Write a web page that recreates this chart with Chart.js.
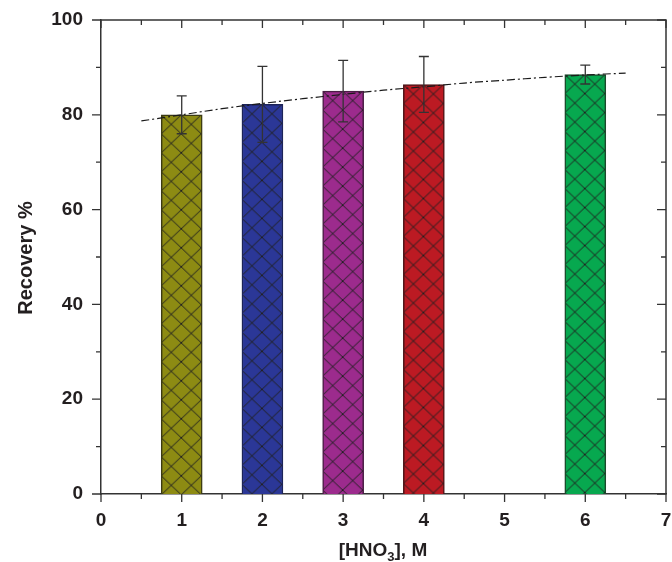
<!DOCTYPE html>
<html>
<head>
<meta charset="utf-8">
<script src="https://cdn.jsdelivr.net/npm/chart.js@4.4.1/dist/chart.umd.min.js"></script>
<style>
  html, body { margin: 0; padding: 0; background: #fff; }
  canvas { display: block; }
</style>
</head>
<body>
<canvas id="chart" width="672" height="562"></canvas>
<script>
// ---- data ----
const concX = [1, 2, 3, 4, 6];                 // [HNO3], M
const recovery = [80.0, 82.2, 85.0, 86.4, 88.5]; // Recovery %
const recoveryErr = [4.0, 8.0, 6.5, 5.9, 2.0];
const barColors = ['#8d8b13', '#2b3797', '#9c2b8d', '#bc1a23', '#07a84f'];
const barEdges  = ['#3b3a14', '#1d2458', '#4a1d44', '#4d1417', '#1b4a2c'];

const trendX = [0.5, 1, 1.5, 2, 2.5, 3, 3.5, 4, 4.5, 5, 5.5, 6, 6.5];
const trendY = [78.7, 80.0, 81.3, 82.4, 83.4, 84.3, 85.2, 85.9, 86.7, 87.3, 87.9, 88.4, 88.8];

const xMin = 0, xMax = 7, xStep = 1;
const yMin = 0, yMax = 100, yStep = 20;

const INK = '#231f20';
const FONT = '"Liberation Sans", Arial, Helvetica, sans-serif';

// crosshatch fill for each bar
function makeHatch(color) {
  const w = 20, h = 19;
  const c = document.createElement('canvas');
  c.width = w; c.height = h;
  const g = c.getContext('2d');
  g.fillStyle = color;
  g.fillRect(0, 0, w, h);
  g.strokeStyle = '#222';
  g.lineWidth = 1;
  g.beginPath();
  g.moveTo(-w, -h); g.lineTo(2 * w, 2 * h);
  g.moveTo(2 * w, -h); g.lineTo(-w, 2 * h);
  g.stroke();
  return g.createPattern(c, 'repeat');
}
const hatches = barColors.map(makeHatch);

function noPad(s) {
  s.paddingLeft = 0; s.paddingRight = 0;
  s.paddingTop = 0; s.paddingBottom = 0;
}

// frame, ticks, error bars, axis titles
const decor = {
  id: 'decor',
  beforeDatasetsDraw(chart) {
    const meta = chart.getDatasetMeta(0);
    meta.data.forEach((bar, i) => {
      const left = bar.x - bar.width / 2;
      hatches[i].setTransform(new DOMMatrix().translate(left, bar.y));
    });
  },
  afterDatasetsDraw(chart) {
    const ctx = chart.ctx;
    const xs = chart.scales.x, ys = chart.scales.y;
    ctx.save();
    ctx.strokeStyle = '#333';
    ctx.lineWidth = 1.3;
    concX.forEach((x, i) => {
      const px = xs.getPixelForValue(x);
      const hi = ys.getPixelForValue(recovery[i] + recoveryErr[i]);
      const lo = ys.getPixelForValue(recovery[i] - recoveryErr[i]);
      ctx.beginPath();
      ctx.moveTo(px, hi); ctx.lineTo(px, lo);
      ctx.moveTo(px - 5, hi); ctx.lineTo(px + 5, hi);
      ctx.moveTo(px - 5, lo); ctx.lineTo(px + 5, lo);
      ctx.stroke();
    });
    ctx.restore();
  },
  afterDraw(chart) {
    const ctx = chart.ctx;
    const a = chart.chartArea;
    const xs = chart.scales.x, ys = chart.scales.y;
    ctx.save();
    ctx.strokeStyle = '#333';
    ctx.lineWidth = 1.5;
    ctx.beginPath();
    ctx.moveTo(a.left, a.top); ctx.lineTo(a.right, a.top); ctx.lineTo(a.right, a.bottom);
    ctx.stroke();

    ctx.lineWidth = 1.3;
    ctx.beginPath();
    for (let v = xMin; v <= xMax + 1e-9; v += xStep / 2) {
      const px = xs.getPixelForValue(v);
      const major = Math.abs(v - Math.round(v)) < 1e-9;
      const len = major ? 8 : 5;
      ctx.moveTo(px, a.bottom); ctx.lineTo(px, a.bottom + len);   // out
      ctx.moveTo(px, a.top); ctx.lineTo(px, a.top + len);         // in
    }
    for (let v = yMin; v <= yMax + 1e-9; v += yStep / 2) {
      const py = ys.getPixelForValue(v);
      const major = Math.abs(v / yStep - Math.round(v / yStep)) < 1e-9;
      const len = major ? 9 : 5;
      ctx.moveTo(a.left, py); ctx.lineTo(a.left - len, py);       // out
      ctx.moveTo(a.right, py); ctx.lineTo(a.right - len, py);     // in
    }
    ctx.stroke();

    // axis titles
    ctx.fillStyle = INK;
    ctx.textBaseline = 'alphabetic';

    ctx.save();
    ctx.font = 'bold 20px ' + FONT;
    ctx.translate(32, (a.top + a.bottom) / 2 + 1);
    ctx.rotate(-Math.PI / 2);
    ctx.textAlign = 'center';
    ctx.fillText('Recovery %', 0, 0);
    ctx.restore();

    const p1 = '[HNO', p2 = '3', p3 = '], M';
    ctx.font = 'bold 19px ' + FONT;
    const w1 = ctx.measureText(p1).width, w3 = ctx.measureText(p3).width;
    ctx.font = 'bold 13px ' + FONT;
    const w2 = ctx.measureText(p2).width;
    let x0 = 383 - (w1 + w2 + w3) / 2;
    const base = 556;
    ctx.textAlign = 'left';
    ctx.font = 'bold 19px ' + FONT;
    ctx.fillText(p1, x0, base);
    ctx.font = 'bold 13px ' + FONT;
    ctx.fillText(p2, x0 + w1, base + 5);
    ctx.font = 'bold 19px ' + FONT;
    ctx.fillText(p3, x0 + w1 + w2, base);
    ctx.restore();
  }
};

new Chart(document.getElementById('chart'), {
  type: 'bar',
  data: {
    datasets: [
      {
        type: 'bar',
        data: concX.map((x, i) => ({ x: x, y: recovery[i] })),
        backgroundColor: hatches,
        borderColor: barEdges,
        borderWidth: 1.5,
        barThickness: 41,
        order: 2
      },
      {
        type: 'line',
        data: trendX.map((x, i) => ({ x: x, y: trendY[i] })),
        borderColor: '#1a1a1a',
        borderWidth: 1.2,
        borderDash: [8, 3, 2, 3],
        pointRadius: 0,
        tension: 0.3,
        fill: false,
        order: 1
      }
    ]
  },
  options: {
    responsive: false,
    animation: false,
    devicePixelRatio: 1,
    layout: { padding: { top: 20, right: 6, left: 0, bottom: 0 } },
    plugins: { legend: { display: false }, tooltip: { enabled: false } },
    scales: {
      x: {
        type: 'linear',
        min: xMin, max: xMax,
        offset: false,
        afterFit: s => { s.height = 68; noPad(s); },
        ticks: { stepSize: xStep, color: INK, padding: 15, font: { family: FONT, size: 19, weight: 'bold' } },
        grid: { display: false, drawTicks: false },
        border: { display: true, color: '#333', width: 1.5 }
      },
      y: {
        min: yMin, max: yMax,
        afterFit: s => { s.width = 101; noPad(s); },
        ticks: { stepSize: yStep, color: INK, padding: 18, font: { family: FONT, size: 19, weight: 'bold' } },
        grid: { display: false, drawTicks: false },
        border: { display: true, color: '#333', width: 1.5 }
      }
    }
  },
  plugins: [decor]
});
</script>
</body>
</html>
